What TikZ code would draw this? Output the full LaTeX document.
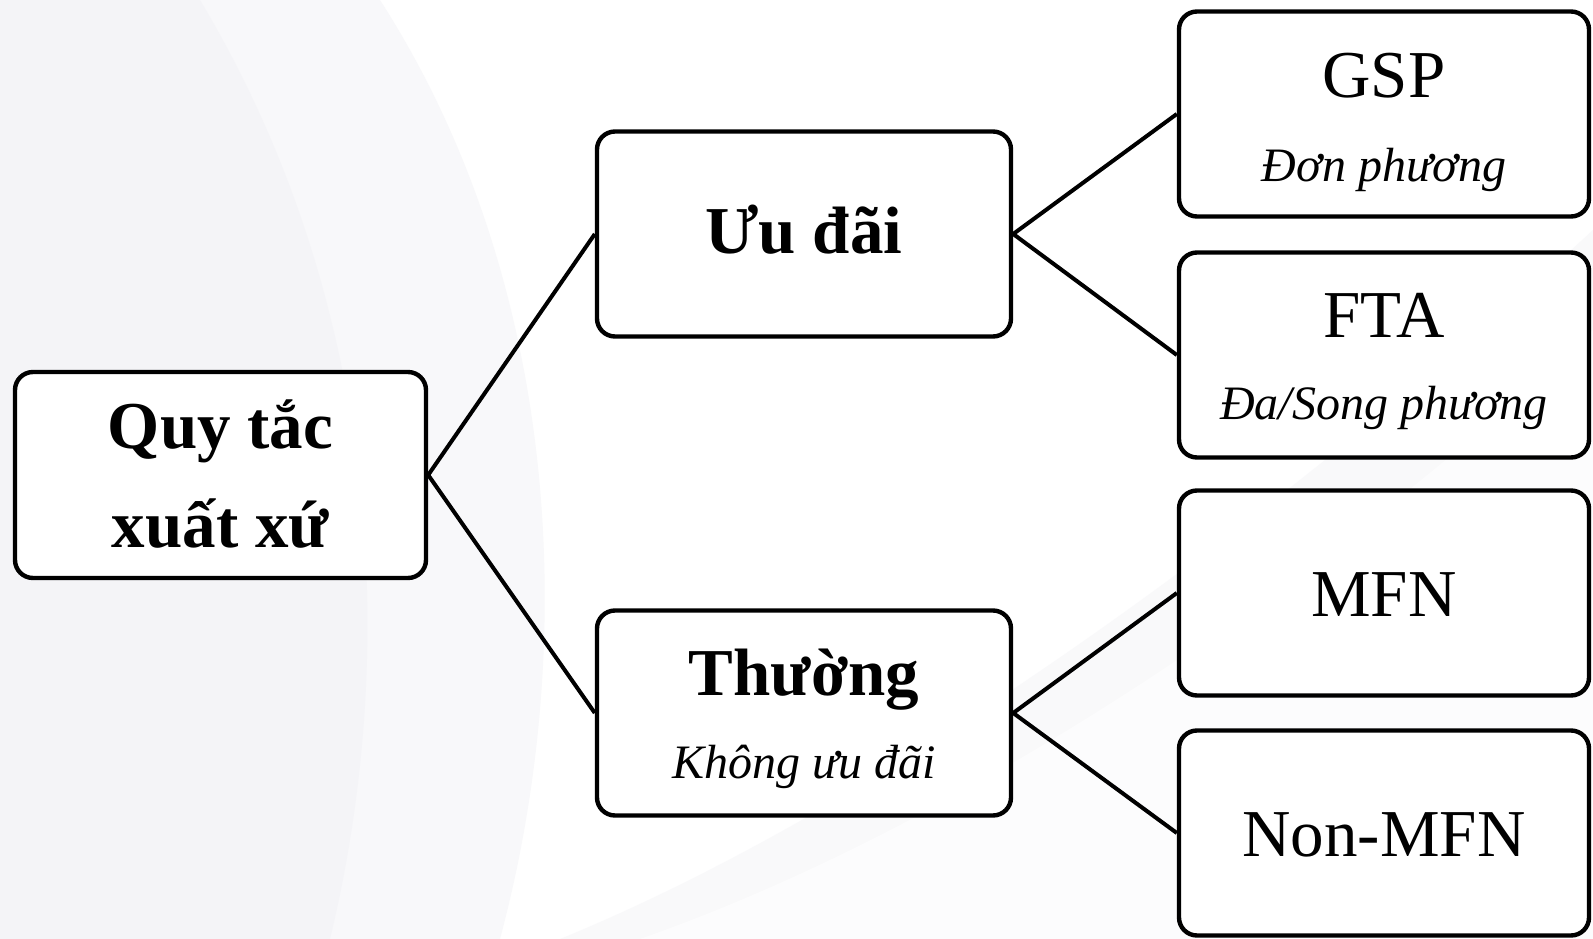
\documentclass[tikz,border=0pt]{standalone}
\usepackage{fontspec}
\setmainfont{Liberation Serif}
\definecolor{bgtint}{RGB}{236,236,241}
\begin{document}
\begin{tikzpicture}[x=1pt,y=-1pt,
  boxstyle/.style={draw=black, line width=4.4pt, rounded corners=18pt, fill=white,
    minimum width=412pt, minimum height=205pt, inner sep=0pt},
  conn/.style={draw=black, line width=4pt},
  bigbold/.style={anchor=base, inner sep=0pt, font=\fontsize{67}{80}\selectfont\bfseries},
  bigreg/.style={anchor=base, inner sep=0pt, font=\fontsize{67}{80}\selectfont},
  subit/.style={anchor=base, inner sep=0pt, font=\fontsize{48}{56}\selectfont\itshape}]
\useasboundingbox (0,0) rectangle (1593,939);
\fill[white] (0,0) rectangle (1593,939);
% faint background swooshes
\fill[bgtint, opacity=0.35] (0,0) -- (380,0) .. controls (560,280) and (580,640) .. (500,939) -- (0,939) -- cycle;
\fill[bgtint, opacity=0.3] (0,0) -- (200,0) .. controls (380,300) and (400,650) .. (330,939) -- (0,939) -- cycle;
\fill[bgtint, opacity=0.3] (560,939) .. controls (900,800) and (1300,500) .. (1593,230) -- (1593,939) -- cycle;
\fill[white, opacity=0.6] (640,939) .. controls (980,820) and (1350,560) .. (1593,330) -- (1593,939) -- cycle;

% boxes
\node[boxstyle, minimum width=411pt, minimum height=206pt] (root) at (220.5,475) {};
\node[boxstyle, minimum width=414pt] (uu) at (804,234) {};
\node[boxstyle, minimum width=414pt] (th) at (804,713) {};
\node[boxstyle, minimum width=410pt] (gsp) at (1384,114) {};
\node[boxstyle, minimum width=410pt] (fta) at (1384,355) {};
\node[boxstyle, minimum width=410pt] (mfn) at (1384,593) {};
\node[boxstyle, minimum width=410pt] (nmfn) at (1384,833) {};

% connectors
\draw[conn] (root.east) -- (uu.west);
\draw[conn] (root.east) -- (th.west);
\draw[conn] (uu.east) -- (gsp.west);
\draw[conn] (uu.east) -- (fta.west);
\draw[conn] (th.east) -- (mfn.west);
\draw[conn] (th.east) -- (nmfn.west);

% texts
\node[bigbold] (rootA) at (220.5,448) {Quy tắc};
\node[bigbold] (rootB) at (220.5,547) {xuất xứ};
\node[bigbold] (uuT) at (804,253) {Ưu đãi};
\node[bigbold] (thT) at (804,695) {Thường};
\node[subit] (thS) at (804,778) {Không ưu đãi};
\node[bigreg] (gspT) at (1384,98) {GSP};
\node[subit] (gspS) at (1384,181) {Đơn phương};
\node[bigreg] (ftaT) at (1384,337) {FTA};
\node[subit] (ftaS) at (1384,419) {Đa/Song phương};
\node[bigreg] (mfnT) at (1384,616) {MFN};
\node[bigreg] (nmfnT) at (1384,856) {Non-MFN};
\end{tikzpicture}
\end{document}
